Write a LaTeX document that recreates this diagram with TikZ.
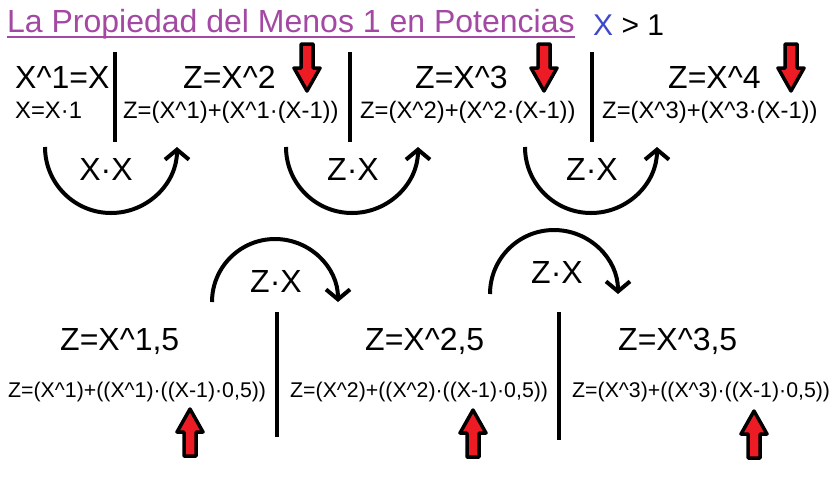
\documentclass[tikz,border=0pt]{standalone}
\usepackage{fontspec}
\setmainfont{Liberation Sans}
\usetikzlibrary{arrows.meta}
\definecolor{titlepurple}{HTML}{A349A4}
\definecolor{xblue}{HTML}{3F48CC}
\definecolor{arrred}{HTML}{ED1C24}
\newcommand\caretch{\char"5E\relax}
\begin{document}
\begin{tikzpicture}[x=1pt,y=-1pt,
  big/.style={font=\fontsize{32}{38}\selectfont, inner sep=0pt, anchor=base west},
  small/.style={font=\fontsize{23.8}{28}\selectfont, inner sep=0pt, anchor=base west},
  smallb/.style={font=\fontsize{21.3}{26}\selectfont, inner sep=0pt, anchor=base west},
  oplabel/.style={font=\fontsize{32}{38}\selectfont, inner sep=0pt, anchor=base},
  bar/.style={line width=4pt},
  cyc/.style={line width=4pt, -{Straight Barb[length=10pt,width=24pt]}},
  blockarrow/.style={fill=arrred, draw=black, line width=3.5pt, line join=round},
  pics/downarr/.style={code={\draw[blockarrow] (-6,0) -- (6,0) -- (6,24) -- (13,24) -- (0,47) -- (-13,24) -- (-6,24) -- cycle;}},
  pics/uparr/.style={code={\draw[blockarrow] (-6,0) -- (6,0) -- (6,-24) -- (13,-24) -- (0,-47) -- (-13,-24) -- (-6,-24) -- cycle;}},
]
\useasboundingbox (0,0) rectangle (840,480);

% title
\node[big, text=titlepurple] (title) at (7,32) {La Propiedad del Menos 1 en Potencias};
\draw[titlepurple, line width=2pt] ([yshift=-4.5pt]title.base west) -- ([yshift=-4.5pt]title.base east);
\node[font=\fontsize{30}{36}\selectfont, inner sep=0pt, anchor=base west] (cond) at (593,35) {\textcolor{xblue}{X} > 1};

% top row texts
\node[big] (t1) at (15,88) {X\caretch1=X};
\node[small] (t1s) at (15,118) {X=X·1};
\node[big] (t2) at (183,88) {Z=X\caretch2};
\node[small] (t2s) at (123,118) {Z=(X\caretch1)+(X\caretch1·(X-1))};
\node[big] (t3) at (415,88) {Z=X\caretch3};
\node[small] (t3s) at (360,118) {Z=(X\caretch2)+(X\caretch2·(X-1))};
\node[big] (t4) at (668,88) {Z=X\caretch4};
\node[small] (t4s) at (602,118) {Z=(X\caretch3)+(X\caretch3·(X-1))};

% top bars
\coordinate (tb1a) at (115,52); \coordinate (tb1b) at (115,142);
\coordinate (tb2a) at (350,52); \coordinate (tb2b) at (350,142);
\coordinate (tb3a) at (592,52); \coordinate (tb3b) at (592,142);
\draw[bar] (tb1a) -- (tb1b);
\draw[bar] (tb2a) -- (tb2b);
\draw[bar] (tb3a) -- (tb3b);

% down arrows
\pic at (307,44) {downarr};
\pic at (544,44) {downarr};
\pic at (791,44) {downarr};

% top arcs
\coordinate (ta1) at (45,147);
\coordinate (ta2) at (286,147);
\coordinate (ta3) at (525,147);
\draw[cyc] (ta1) arc[start angle=180, end angle=0, radius=66];
\draw[cyc] (ta2) arc[start angle=180, end angle=0, radius=66];
\draw[cyc] (ta3) arc[start angle=180, end angle=0, radius=66];
\node[oplabel] (l1) at (106,180) {X·X};
\node[oplabel] (l2) at (353,180) {Z·X};
\node[oplabel] (l3) at (592,180) {Z·X};

% bottom arcs
\coordinate (ba1) at (212,302);
\coordinate (ba2) at (490,294);
\draw[cyc] (ba1) arc[start angle=180, end angle=360, radius=63];
\draw[cyc] (ba2) arc[start angle=180, end angle=360, radius=64];
\node[oplabel] (l4) at (276,292) {Z·X};
\node[oplabel] (l5) at (557,283) {Z·X};

% bottom row texts
\node[big] (b1) at (60,350) {Z=X\caretch1,5};
\node[smallb] (b1s) at (8,397) {Z=(X\caretch1)+((X\caretch1)·((X-1)·0,5))};
\node[big] (b2) at (365,350) {Z=X\caretch2,5};
\node[smallb] (b2s) at (290,397) {Z=(X\caretch2)+((X\caretch2)·((X-1)·0,5))};
\node[big] (b3) at (618,350) {Z=X\caretch3,5};
\node[smallb] (b3s) at (572,397) {Z=(X\caretch3)+((X\caretch3)·((X-1)·0,5))};

% bottom bars
\coordinate (bb1a) at (277,312); \coordinate (bb1b) at (277,437);
\coordinate (bb2a) at (559,312); \coordinate (bb2b) at (559,440);
\draw[bar] (bb1a) -- (bb1b);
\draw[bar] (bb2a) -- (bb2b);

% up arrows
\pic at (190,456) {uparr};
\pic at (473,457) {uparr};
\pic at (754,458) {uparr};
\end{tikzpicture}
\end{document}
